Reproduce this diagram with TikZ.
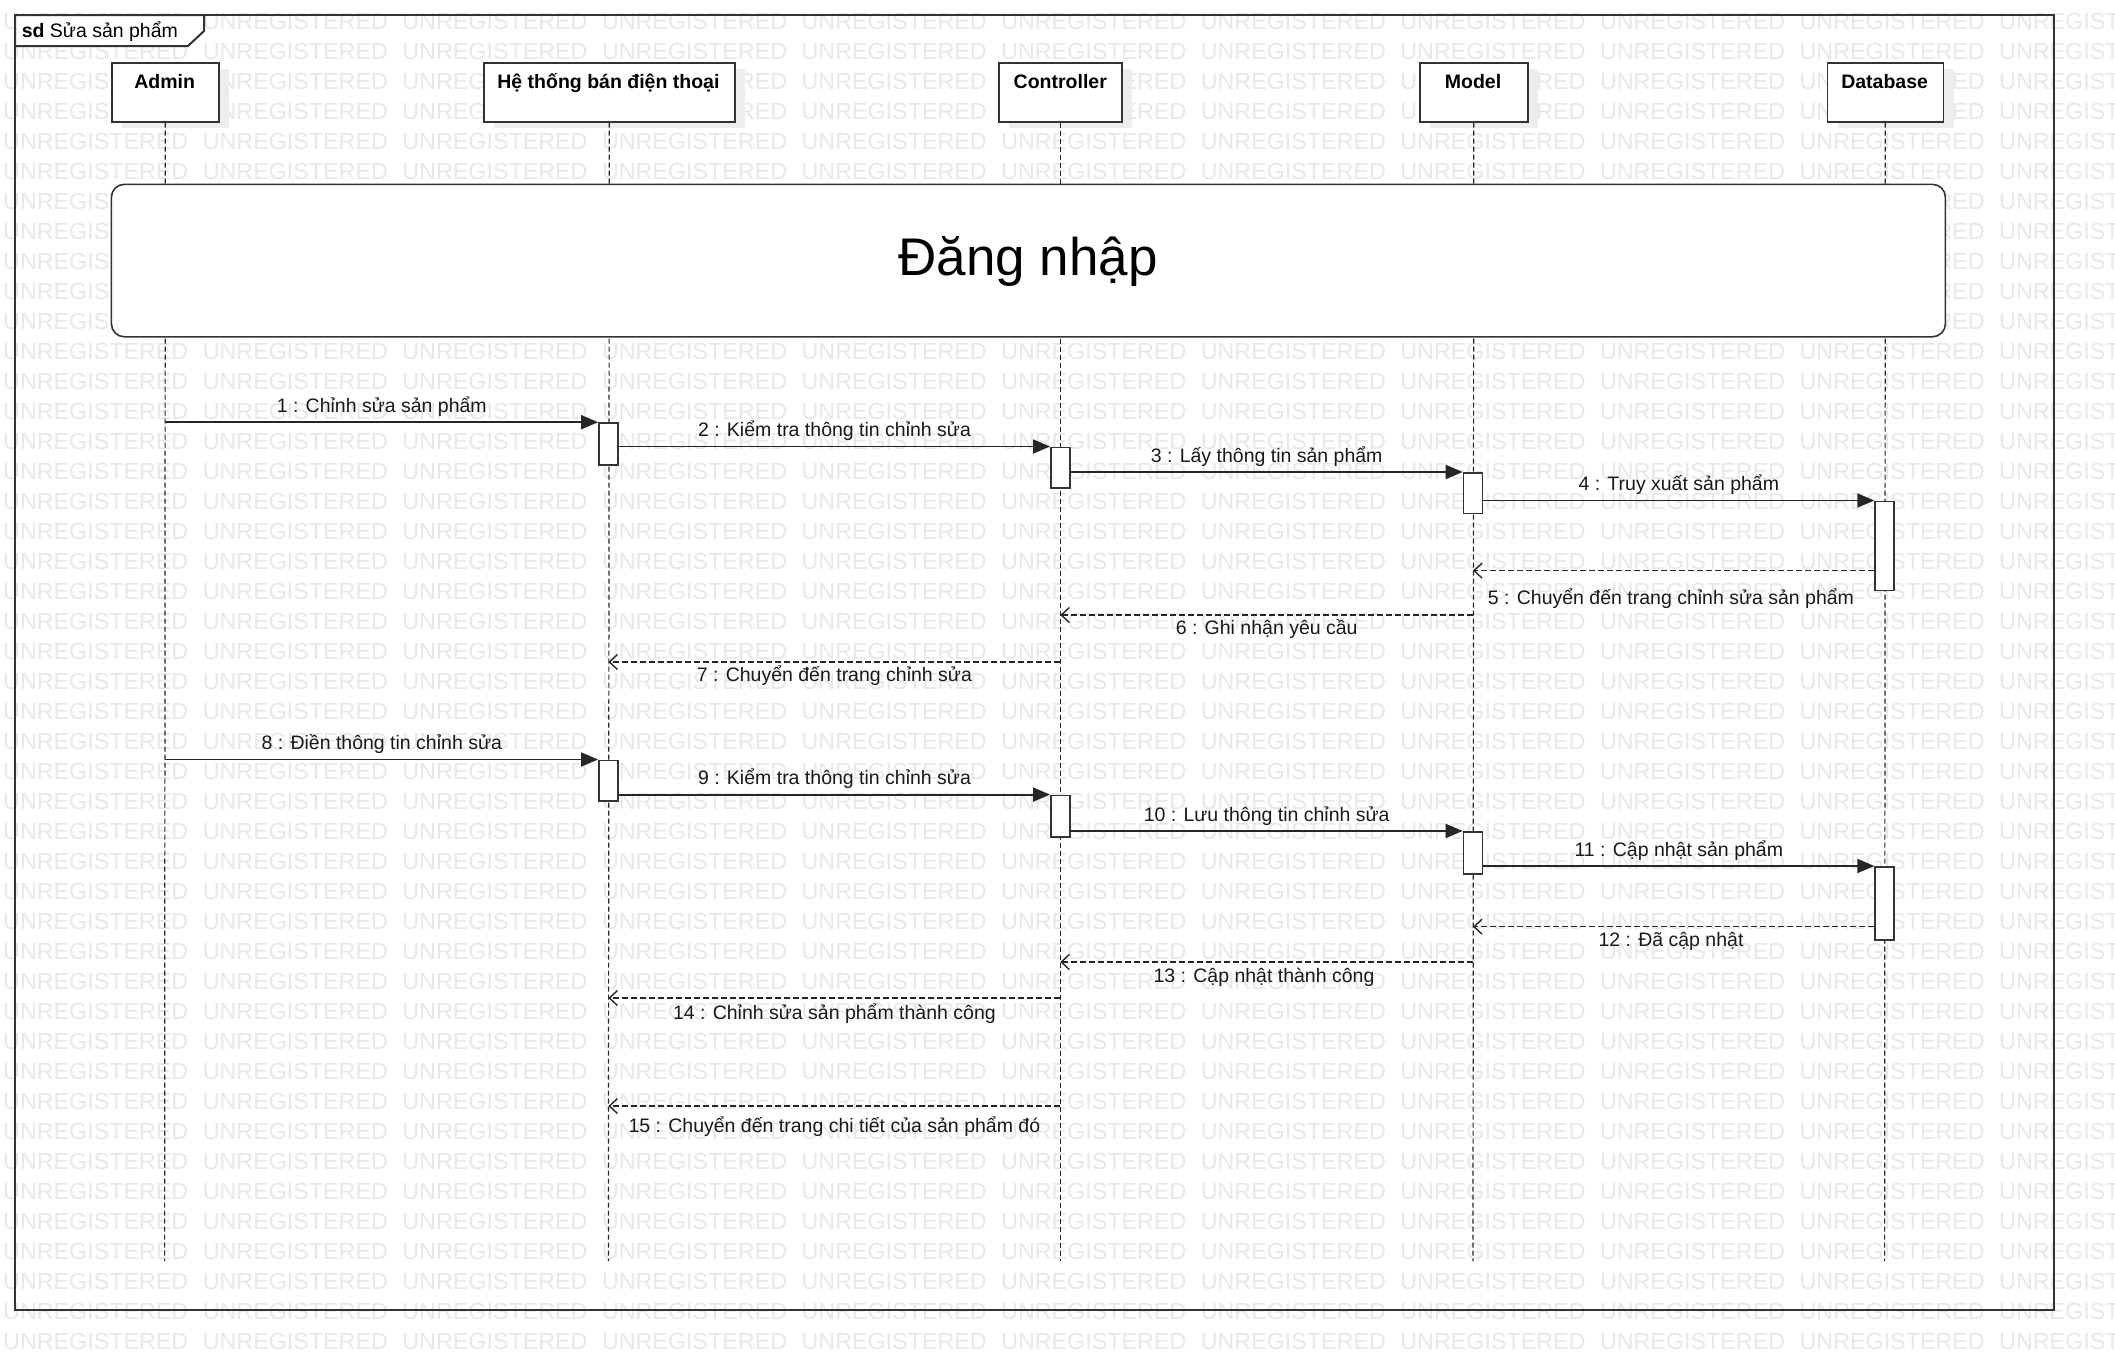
\documentclass[tikz,border=0pt]{standalone}
\usepackage{fontspec}
\setmainfont{Liberation Sans}
\usetikzlibrary{arrows.meta}
\begin{document}
\begin{tikzpicture}[x=1pt,y=-1pt,
  wm/.style={text=black!9, font=\fontsize{23.3}{26}\selectfont, inner sep=0pt, anchor=west},
  frame/.style={draw=black!80, line width=2pt},
  head/.style={draw=black!80, line width=1.6pt, fill=white, minimum width=#1, minimum height=59pt, anchor=north west, inner sep=0pt},
  shadow/.style={fill=black!7, draw=none, minimum width=#1, minimum height=59pt, anchor=north west, inner sep=0pt},
  headtxt/.style={font=\fontsize{19.5}{22}\selectfont\bfseries, inner sep=0pt, anchor=base},
  life/.style={draw=black!85, line width=1.2pt, dash pattern=on 5pt off 3pt},
  act/.style={draw=black!80, line width=1.6pt, fill=white, minimum width=19pt, anchor=north, inner sep=0pt},
  call/.style={line width=1.8pt, draw=black!85, -{Triangle[length=17pt,width=14pt]}},
  ret/.style={line width=1.4pt, draw=black!85, dash pattern=on 6pt off 3pt, -{Straight Barb[length=8pt,width=15pt,line width=1.4pt]}},
  lbl/.style={font=\fontsize{19.5}{22}\selectfont, inner sep=0pt, anchor=base, text=black!90},
]
\useasboundingbox (0,0) rectangle (2115,1371);
\fill[white] (0,0) rectangle (2115,1371);
% watermark
\begin{scope}
\clip (0,0) rectangle (2115,1371);
\foreach \r in {0,...,44}{
  \foreach \c in {0,...,10}{
    \node[wm] (wm-\r-\c) at (3+199.6*\c, 21.6+30*\r) {UNREGISTERED};
  }
}
\end{scope}
% frame
\draw[frame] (15,15) rectangle (2054,1310);
\draw[frame, fill=white] (15,15) -- (204,15) -- (204,31) -- (188,46) -- (15,46) -- cycle;
\node[anchor=base west, inner sep=0pt, font=\fontsize{19.5}{22}\selectfont] (sdlbl) at (21.6,37) {\textbf{sd} Sửa sản phẩm};
% lifeline heads
\def\xA{164.6}\def\xH{608.4}\def\xC{1060.3}\def\xM{1473}\def\xD{1884.6}
\node[shadow=107pt] (adminS) at (122,69) {};
\node[shadow=251pt] (heS) at (494,69) {};
\node[shadow=123pt] (ctrlS) at (1009,69) {};
\node[shadow=108pt] (modelS) at (1430,69) {};
\node[shadow=116pt] (dbS) at (1837.5,69) {};
\node[head=107pt] (admin) at (111,62) {};
\node[head=251pt] (he) at (483,62) {};
\node[head=123pt] (ctrl) at (998,62) {};
\node[head=108pt] (model) at (1419,62) {};
\node[head=116pt] (db) at (1826.5,62) {};
\node[headtxt] (adminT) at (\xA,88) {Admin};
\node[headtxt] (heT) at (\xH,88) {Hệ thống bán điện thoại};
\node[headtxt] (ctrlT) at (\xC,88) {Controller};
\node[headtxt] (modelT) at (\xM,88) {Model};
\node[headtxt] (dbT) at (\xD,88) {Database};
% lifelines
\coordinate (adminE) at (\xA,1261);
\coordinate (heE) at (\xH,1261);
\coordinate (ctrlE) at (\xC,1261);
\coordinate (modelE) at (\xM,1261);
\coordinate (dbE) at (\xD,1261);
\draw[life] (admin.south) -- (adminE);
\draw[life] (he.south) -- (heE);
\draw[life] (ctrl.south) -- (ctrlE);
\draw[life] (model.south) -- (modelE);
\draw[life] (db.south) -- (dbE);
% login ref box
\node[draw=black!80, line width=1.6pt, fill=white, rounded corners=13pt, minimum width=1834pt, minimum height=152.5pt, anchor=north west, inner sep=0pt] (login) at (110.6,183.5) {};
\node[font=\fontsize{53}{60}\selectfont, inner sep=0pt] (loginT) at (1028,261) {Đăng nhập};
% activations
\node[act, minimum height=42pt] (h1) at (\xH,422.2) {};
\node[act, minimum height=40.5pt] (c1) at (\xC,446.5) {};
\node[act, minimum height=40.6pt] (m1) at (\xM,472) {};
\node[act, minimum height=89pt] (d1) at (\xD,500.5) {};
\node[act, minimum height=40.5pt] (h2) at (\xH,759.5) {};
\node[act, minimum height=41.4pt] (c2) at (\xC,794.6) {};
\node[act, minimum height=42pt] (m2) at (\xM,831) {};
\node[act, minimum height=73pt] (d2) at (\xD,866) {};
% messages
\coordinate (s1) at (\xA,422.2);
\draw[call] (s1) -- (h1.north west);
\node[lbl] (l1) at (381.8,412.2) {1 : Chỉnh sửa sản phẩm};
\draw[call] (h1.east |- c1.north) -- (c1.north west);
\node[lbl] (l2) at (834.5,436.5) {2 : Kiểm tra thông tin chỉnh sửa};
\draw[call] (c1.east |- m1.north) -- (m1.north west);
\node[lbl] (l3) at (1266.7,462) {3 : Lấy thông tin sản phẩm};
\draw[call] (m1.east |- d1.north) -- (d1.north west);
\node[lbl] (l4) at (1678.8,490.5) {4 : Truy xuất sản phẩm};
\coordinate (t5) at (\xM,570.6);
\draw[ret] (d1.west |- t5) -- (t5);
\node[lbl] (l5) at (1671,604.6) {5 : Chuyển đến trang chỉnh sửa sản phẩm};
\coordinate (s6) at (\xM,615); \coordinate (t6) at (\xC,615);
\draw[ret] (s6) -- (t6);
\node[lbl] (l6) at (1266.7,634) {6 : Ghi nhận yêu cầu};
\coordinate (s7) at (\xC,662); \coordinate (t7) at (\xH,662);
\draw[ret] (s7) -- (t7);
\node[lbl] (l7) at (834.4,681.5) {7 : Chuyển đến trang chỉnh sửa};
\coordinate (s8) at (\xA,759.5);
\draw[call] (s8) -- (h2.north west);
\node[lbl] (l8) at (381.8,749.5) {8 : Điền thông tin chỉnh sửa};
\draw[call] (h2.east |- c2.north) -- (c2.north west);
\node[lbl] (l9) at (834.5,784.6) {9 : Kiểm tra thông tin chỉnh sửa};
\draw[call] (c2.east |- m2.north) -- (m2.north west);
\node[lbl] (l10) at (1266.7,821) {10 : Lưu thông tin chỉnh sửa};
\draw[call] (m2.east |- d2.north) -- (d2.north west);
\node[lbl] (l11) at (1678.8,856) {11 : Cập nhật sản phẩm};
\coordinate (t12) at (\xM,926.7);
\draw[ret] (d2.west |- t12) -- (t12);
\node[lbl] (l12) at (1671,946) {12 : Đã cập nhật};
\coordinate (s13) at (\xM,962); \coordinate (t13) at (\xC,962);
\draw[ret] (s13) -- (t13);
\node[lbl] (l13) at (1264,982) {13 : Cập nhật thành công};
\coordinate (s14) at (\xC,998); \coordinate (t14) at (\xH,998);
\draw[ret] (s14) -- (t14);
\node[lbl] (l14) at (834.4,1019) {14 : Chỉnh sửa sản phẩm thành công};
\coordinate (s15) at (\xC,1106); \coordinate (t15) at (\xH,1106);
\draw[ret] (s15) -- (t15);
\node[lbl] (l15) at (834.4,1132) {15 : Chuyển đến trang chi tiết của sản phẩm đó};
\end{tikzpicture}
\end{document}
